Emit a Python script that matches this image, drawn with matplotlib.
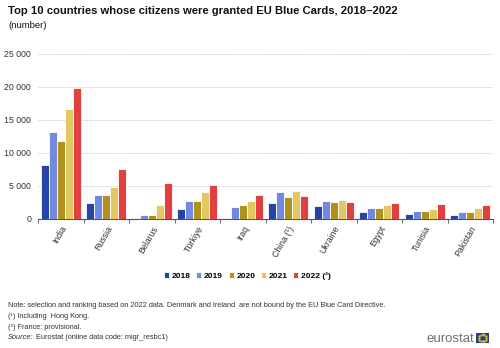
import numpy as np
import matplotlib
matplotlib.use("Agg")
import matplotlib.pyplot as plt
from matplotlib.patches import Rectangle

plt.rcParams['font.family'] = ['Liberation Sans', 'DejaVu Sans']

countries = ["India", "Russia", "Belarus", "Türkiye", "Iraq", "China (¹)",
             "Ukraine", "Egypt", "Tunisia", "Pakistan"]
years = ["2018", "2019", "2020", "2021", "2022 (²)"]

v2018 = [8150, 2430, 150, 1520, 100, 2380, 2020, 1010, 810, 660]
v2019 = [13200, 3640, 600, 2780, 1820, 4100, 2730, 1720, 1210, 1010]
v2020 = [11840, 3640, 650, 2750, 2170, 3340, 2580, 1720, 1160, 1060]
v2021 = [16650, 4850, 2180, 4100, 2730, 4200, 2880, 2120, 1570, 1670]
v2022 = [19840, 7590, 5460, 5200, 3640, 3490, 2580, 2380, 2280, 2120]

colors = ["#2644A7", "#718AE0", "#B09120", "#E3C862", "#E04040"]

fig = plt.figure(figsize=(5, 3.48), dpi=100)
ax = fig.add_axes([0.076, 0.371, 0.91, 0.474])

x = np.arange(len(countries))
w = 0.178
series = [v2018, v2019, v2020, v2021, v2022]
for i, (vals, col, lab) in enumerate(zip(series, colors, years)):
    ax.bar(x + (i - 2) * w, vals, w, color=col, edgecolor="white",
           linewidth=0.6, label=lab, zorder=3)

ax.set_xlim(-0.5, len(countries) - 0.5)
ax.set_ylim(0, 25000)
ax.set_yticks(np.arange(0, 25001, 5000))
ax.set_yticklabels([f"{v:,}".replace(",", " ") for v in range(0, 25001, 5000)],
                   fontsize=6.3, color="#333333")
ax.yaxis.grid(True, linestyle=(0, (1, 1)), color="#c8c8c8", linewidth=0.7, zorder=0)
ax.tick_params(axis="y", length=0, pad=5)

# category ticks sit between the groups, labels at the centres
ax.set_xticks(np.arange(-0.5, len(countries), 1.0))
ax.set_xticklabels([])
ax.set_xticks(x, minor=True)
ax.set_xticklabels(countries, minor=True, rotation=60, ha="right",
                   rotation_mode="anchor", fontsize=6.3, color="#333333")
ax.tick_params(axis="x", which="major", length=3, color="#555555", width=0.6)
ax.tick_params(axis="x", which="minor", length=0, pad=4)

for s in ["top", "right", "left"]:
    ax.spines[s].set_visible(False)
ax.spines["bottom"].set_color("#555555")
ax.spines["bottom"].set_linewidth(0.8)

leg = fig.legend(loc="center", bbox_to_anchor=(0.495, 0.207), ncol=5,
                 frameon=False, handlelength=0.6,
                 handleheight=0.6, handletextpad=0.3, columnspacing=0.7,
                 prop={"weight": "bold", "size": 6})

fig.text(0.016, 0.968, "Top 10 countries whose citizens were granted EU Blue Cards, 2018–2022",
         fontsize=8.1, fontweight="bold", va="center", color="#111111")
fig.text(0.016, 0.928, "(number)", fontsize=6.8, va="center", color="#111111")

notes_y = [0.122, 0.090, 0.060, 0.030]
fs = 5.3
fig.text(0.016, notes_y[0], "Note: selection and ranking based on 2022 data. Denmark and Ireland  are not bound by the EU Blue Card Directive.",
         fontsize=fs, va="center", color="#333333")
fig.text(0.016, notes_y[1], "(¹) Including  Hong Kong.", fontsize=fs, va="center", color="#333333")
fig.text(0.016, notes_y[2], "(²) France: provisional.", fontsize=fs, va="center", color="#333333")
fig.text(0.016, notes_y[3], "Source:", fontsize=fs, va="center", style="italic", color="#333333")
fig.text(0.073, notes_y[3], "Eurostat (online data code: migr_resbc1)", fontsize=fs,
         va="center", color="#333333")

# eurostat logo
fig.text(0.948, 0.027, "eurostat", fontsize=9.5, ha="right", va="center", color="#707070")
flag = Rectangle((0.952, 0.015), 0.026, 0.028, transform=fig.transFigure,
                 facecolor="#1F3D99", edgecolor="none")
fig.patches.append(flag)
ang = np.linspace(0, 2 * np.pi, 12, endpoint=False)
fig.lines.append(plt.Line2D(0.965 + 0.007 * np.cos(ang), 0.029 + 0.010 * np.sin(ang),
                            transform=fig.transFigure, ls="none", marker="o",
                            ms=0.6, color="#F5D000"))

fig.savefig("out.png", dpi=100)
